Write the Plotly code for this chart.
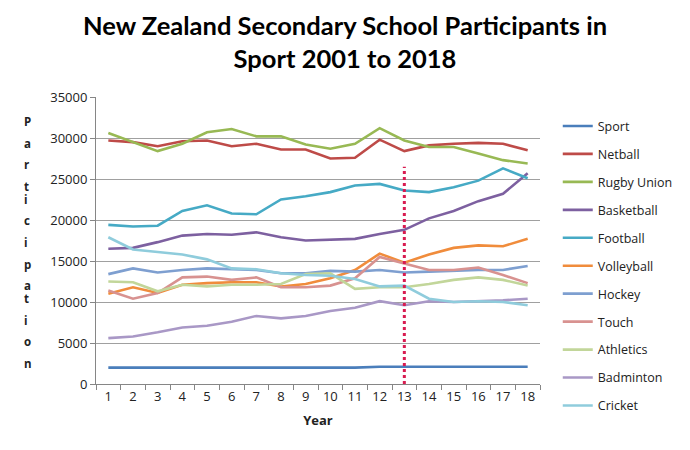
import plotly.graph_objects as go

# data
years = list(range(1, 19))

sport = [2000, 2000, 2000, 2000, 2000, 2000, 2000, 2000, 2000, 2000, 2000, 2100, 2100, 2100, 2100, 2100, 2100, 2100]
netball = [29700, 29500, 29000, 29600, 29700, 29000, 29300, 28600, 28600, 27500, 27600, 29800, 28400, 29100, 29300, 29400, 29300, 28500]
rugby_union = [30600, 29500, 28400, 29300, 30700, 31100, 30200, 30200, 29200, 28700, 29300, 31200, 29700, 28900, 28900, 28100, 27300, 26900]
basketball = [16500, 16600, 17300, 18100, 18300, 18200, 18500, 17900, 17500, 17600, 17700, 18300, 18800, 20200, 21100, 22300, 23200, 25700]
football = [19400, 19200, 19300, 21100, 21800, 20800, 20700, 22500, 22900, 23400, 24200, 24400, 23600, 23400, 24000, 24800, 26300, 25100]
volleyball = [11000, 11800, 11100, 12100, 12300, 12400, 12400, 11900, 12200, 12900, 13900, 15900, 14800, 15800, 16600, 16900, 16800, 17700]
hockey = [13400, 14100, 13600, 13900, 14100, 14000, 13900, 13500, 13500, 13800, 13700, 13900, 13600, 13700, 13800, 13900, 13900, 14400]
touch = [11400, 10400, 11100, 13000, 13100, 12700, 13000, 11800, 11800, 12000, 12900, 15500, 14700, 13900, 13900, 14200, 13300, 12300]
athletics = [12500, 12400, 11300, 12100, 11900, 12100, 12100, 12200, 13400, 13500, 11600, 11800, 11800, 12200, 12700, 13000, 12700, 12000]
badminton = [5600, 5800, 6300, 6900, 7100, 7600, 8300, 8000, 8300, 8900, 9300, 10100, 9600, 10100, 10000, 10100, 10200, 10400]
cricket = [17900, 16400, 16100, 15800, 15200, 14100, 14000, 13500, 13300, 13200, 12800, 11900, 12000, 10400, 10000, 10100, 10000, 9600]

marker_year = [13, 13]
marker_vals = [0, 26500]

series = [
    ('Sport', sport, '#4a7ebb'),
    ('Netball', netball, '#be4b48'),
    ('Rugby Union', rugby_union, '#98b954'),
    ('Basketball', basketball, '#7d60a0'),
    ('Football', football, '#46aac5'),
    ('Volleyball', volleyball, '#f08c3c'),
    ('Hockey', hockey, '#7e9fd0'),
    ('Touch', touch, '#d89290'),
    ('Athletics', athletics, '#c2d69a'),
    ('Badminton', badminton, '#a998c6'),
    ('Cricket', cricket, '#8fccdc'),
]

fig = go.Figure()

for name, vals, col in series:
    fig.add_trace(go.Scatter(
        x=years, y=vals, mode='lines', name=name, legendgroup=name,
        line=dict(color=col, width=2.6),
    ))

# dotted marker at year 13
fig.add_trace(go.Scatter(
    x=marker_year, y=marker_vals, mode='lines', showlegend=False,
    line=dict(color='#d81b50', width=3, dash='dot'),
))

fig.update_layout(
    width=690, height=450,
    paper_bgcolor='white', plot_bgcolor='white',
    font=dict(family='Open Sans', size=12, color='#222222'),
    margin=dict(l=96, r=150, t=97, b=66, autoexpand=False),
    title=dict(
        text='<b>New Zealand Secondary School Participants in<br>Sport 2001 to 2018</b>',
        x=0.5, xanchor='center', y=0.922, yanchor='middle',
        font=dict(family='Lato', size=25.5, color='black'),
    ),
    legend=dict(
        x=1.04, xanchor='left', y=0.95, yanchor='top',
        font=dict(size=12.5, color='#222222'),
        tracegroupgap=8.7, itemwidth=30, bgcolor='rgba(0,0,0,0)',
        maxheight=360,
    ),
    showlegend=True,
    xaxis=dict(
        range=[0.5, 18.5], tickmode='linear', tick0=1, dtick=1,
        showgrid=False, showline=True, linecolor='#868686', linewidth=1,
        ticks='', tickfont=dict(size=13, color='#222222'), automargin=False,
        minor=dict(ticks='outside', tick0=0.5, dtick=1, ticklen=5, tickcolor='#868686'),
        title=dict(text='<b>Year</b>', font=dict(size=13, color='#222222'), standoff=12),
    ),
    yaxis=dict(
        range=[0, 35000], tickmode='linear', tick0=0, dtick=5000, tickformat='d',
        showgrid=True, gridcolor='#a0a0a0', gridwidth=1,
        showline=True, linecolor='#868686', linewidth=1, automargin=False,
        ticks='outside', ticklen=5, tickcolor='#868686',
        tickfont=dict(size=13, color='#222222'), zeroline=False,
    ),
)

# stacked letters for the y axis title
letters = list('Participation')
for i, ch in enumerate(letters):
    fig.add_annotation(
        text='<b>' + ch + '</b>', xref='paper', yref='paper',
        x=-0.165, y=0.944 - i * 0.0752, showarrow=False,
        font=dict(size=11.5, color='#222222'), borderpad=0,
    )

fig.write_html('out.html', config={'displayModeBar': False},
               post_script="document.body.style.margin='0';")
